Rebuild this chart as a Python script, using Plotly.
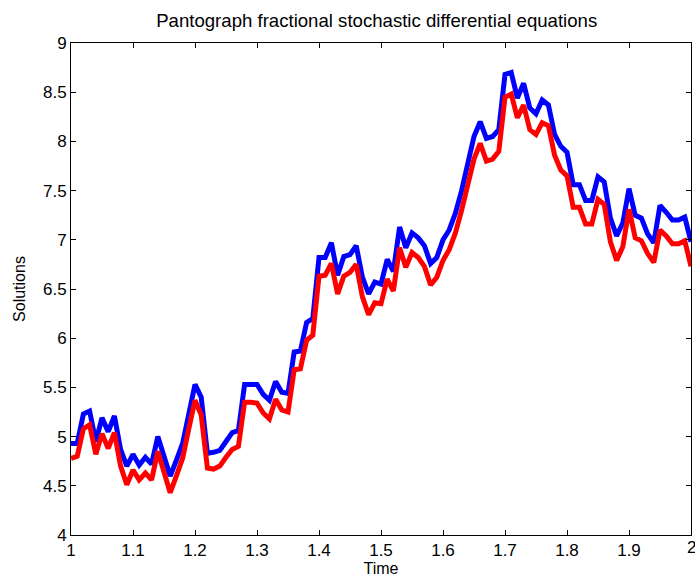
import numpy as np
import plotly.graph_objects as go

time = [round(1 + i * 0.01, 2) for i in range(101)]

blue_solution = [
    4.93, 4.93, 5.23, 5.26, 4.95, 5.19, 5.05, 5.21, 4.87, 4.70,
    4.82, 4.71, 4.79, 4.72, 5.00, 4.81, 4.60, 4.76, 4.93, 5.23,
    5.53, 5.40, 4.83, 4.84, 4.86, 4.95, 5.04, 5.06, 5.53, 5.53,
    5.53, 5.43, 5.37, 5.56, 5.45, 5.44, 5.86, 5.87, 6.16, 6.20,
    6.82, 6.82, 6.97, 6.64, 6.83, 6.85, 6.94, 6.62, 6.45, 6.57,
    6.55, 6.80, 6.68, 7.13, 6.92, 7.07, 7.02, 6.94, 6.76, 6.82,
    7.00, 7.10, 7.27, 7.50, 7.78, 8.05, 8.20, 8.03, 8.05, 8.12,
    8.68, 8.70, 8.44, 8.59, 8.34, 8.28, 8.42, 8.37, 8.07, 7.95,
    7.89, 7.56, 7.56, 7.40, 7.40, 7.64, 7.59, 7.22, 7.04, 7.17,
    7.52, 7.25, 7.22, 7.06, 6.97, 7.35, 7.28, 7.20, 7.20, 7.23,
    6.98,
]

red_solution = [
    4.78, 4.80, 5.08, 5.12, 4.82, 5.03, 4.88, 5.04, 4.70, 4.51,
    4.66, 4.56, 4.63, 4.56, 4.85, 4.66, 4.43, 4.60, 4.78, 5.08,
    5.37, 5.22, 4.68, 4.67, 4.70, 4.79, 4.87, 4.90, 5.35, 5.35,
    5.34, 5.24, 5.18, 5.38, 5.27, 5.25, 5.68, 5.69, 5.98, 6.03,
    6.63, 6.64, 6.76, 6.45, 6.63, 6.67, 6.75, 6.42, 6.24, 6.36,
    6.35, 6.60, 6.48, 6.92, 6.72, 6.87, 6.82, 6.73, 6.54, 6.62,
    6.79, 6.90, 7.07, 7.30, 7.56, 7.82, 7.98, 7.80, 7.82, 7.90,
    8.45, 8.48, 8.24, 8.37, 8.12, 8.07, 8.19, 8.16, 7.86, 7.71,
    7.65, 7.33, 7.33, 7.16, 7.16, 7.41, 7.36, 6.98, 6.79, 6.93,
    7.31, 7.02, 6.99, 6.86, 6.77, 7.10, 7.04, 6.96, 6.96, 6.99,
    6.73,
]

x_ticks = [1, 1.1, 1.2, 1.3, 1.4, 1.5, 1.6, 1.7, 1.8, 1.9, 2]
x_tick_labels = ["1", "1.1", "1.2", "1.3", "1.4", "1.5", "1.6", "1.7", "1.8", "1.9", ""]
x_last_label = "2"
y_ticks = [4, 4.5, 5, 5.5, 6, 6.5, 7, 7.5, 8, 8.5, 9]
y_tick_labels = ["4", "4.5", "5", "5.5", "6", "6.5", "7", "7.5", "8", "8.5", "9"]

fig = go.Figure()
fig.add_trace(go.Scatter(x=time, y=blue_solution, mode="lines",
                         line=dict(color="#0000FF", width=5), showlegend=False))
fig.add_trace(go.Scatter(x=time, y=red_solution, mode="lines",
                         line=dict(color="#FF0000", width=5), showlegend=False))

font_family = "Liberation Sans, Arial, sans-serif"
axis_common = dict(
    showgrid=False, zeroline=False, showline=True, linecolor="black", linewidth=1,
    mirror="ticks", ticks="inside", ticklen=5, tickcolor="black",
    tickfont=dict(family=font_family, size=17, color="black"),
)
fig.update_layout(
    width=695, height=578,
    margin=dict(l=71, r=3, t=43, b=41),
    paper_bgcolor="white", plot_bgcolor="white",
    title=dict(text="Pantograph fractional stochastic differential equations",
               x=0.542, xanchor="center", y=0.965, yanchor="middle",
               font=dict(family=font_family, size=18.6, color="black")),
    xaxis=dict(range=[1, 2], tickvals=x_ticks, ticktext=x_tick_labels,
               title=dict(text="Time", standoff=3,
                          font=dict(family=font_family, size=16, color="black")),
               **axis_common),
    yaxis=dict(range=[4, 9], tickvals=y_ticks, ticktext=y_tick_labels,
               title=dict(text="Solutions", standoff=13,
                          font=dict(family=font_family, size=16, color="black")),
               **axis_common),
)
fig.add_annotation(x=x_ticks[-1], y=y_ticks[0], xref="x", yref="y",
                   text=x_last_label, showarrow=False,
                   xanchor="center", yanchor="top", yshift=-1,
                   font=dict(family=font_family, size=17, color="black"))

post = ("document.body.style.margin='0';"
        "document.body.style.overflow='hidden';"
        "document.documentElement.style.overflow='hidden';")
fig.write_html("out.html", config={"displayModeBar": False}, post_script=post)
